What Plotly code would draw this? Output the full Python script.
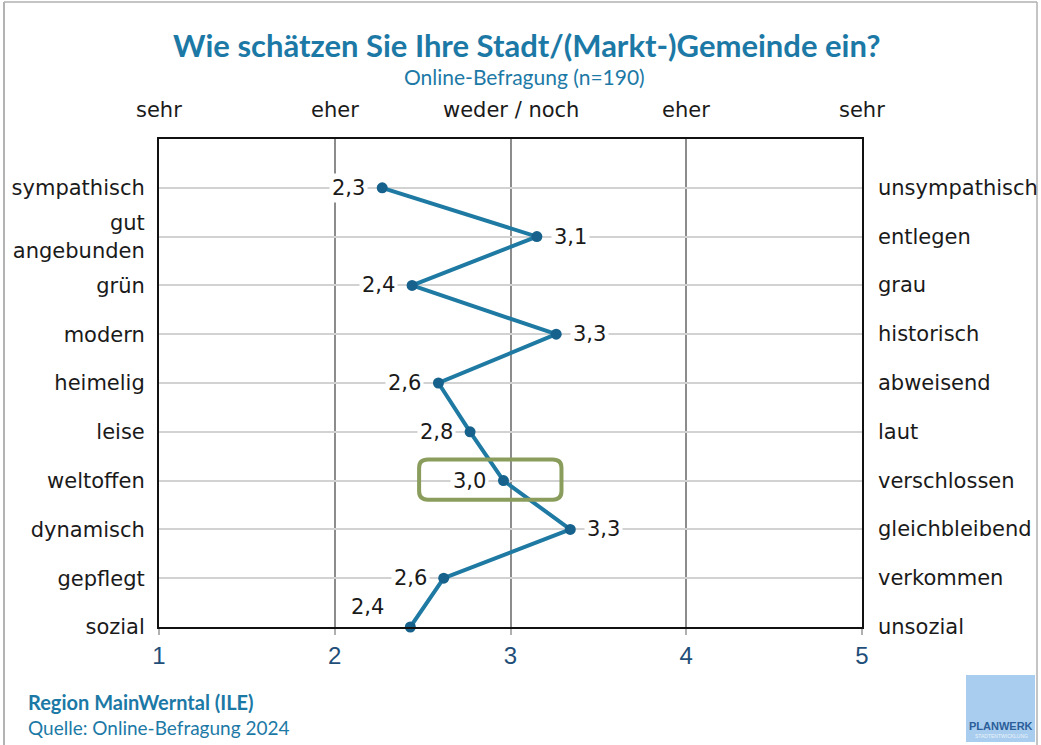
import plotly.graph_objects as go

# ---- data ----
left_labels = ["sympathisch", "gut<br>angebunden", "grün", "modern", "heimelig",
               "leise", "weltoffen", "dynamisch", "gepflegt", "sozial"]
right_labels = ["unsympathisch", "entlegen", "grau", "historisch", "abweisend",
                "laut", "verschlossen", "gleichbleibend", "verkommen", "unsozial"]
values = [2.27, 3.15, 2.44, 3.26, 2.59, 2.77, 2.96, 3.34, 2.62, 2.43]
value_labels = ["2,3", "3,1", "2,4", "3,3", "2,6", "2,8", "3,0", "3,3", "2,6", "2,4"]
label_side = ["left", "right", "left", "right", "left", "left", "left", "right", "left", "above"]
scale_ticks = [1, 2, 3, 4, 5]
scale_headers = ["sehr", "eher", "weder / noch", "eher", "sehr"]
highlight_row = 6
highlight_x = (2.48, 3.29)

W, H = 1041, 745
L, R, T, B = 159, 862, 139, 627


def px(xp):
    return (xp - L) / (R - L)


def py(yp):
    return (B - yp) / (B - T)


rows = list(range(len(left_labels)))
TXT = "DejaVu Sans, sans-serif"
TXT_SIZE = 21
BLUE = "#1c79a6"

fig = go.Figure()
fig.add_trace(go.Scatter(
    x=values, y=rows, mode="lines+markers",
    line=dict(color="#1f7aa3", width=4),
    marker=dict(color="#17628c", size=11),
    cliponaxis=False, hoverinfo="skip", showlegend=False,
))

annotations = []
# data labels
for v, r, t, s in zip(values, rows, value_labels, label_side):
    a = dict(x=v, y=r, xref="x", yref="y", text=t, showarrow=False,
             font=dict(family=TXT, size=TXT_SIZE, color="#1a1a1a"),
             bgcolor="white", borderpad=2)
    if s == "left":
        a.update(xanchor="right", xshift=-14)
    elif s == "right":
        a.update(xanchor="left", xshift=14)
    else:
        a.update(xanchor="center", xshift=-43, yshift=20)
    annotations.append(a)

# right labels
for r, t in zip(rows, right_labels):
    annotations.append(dict(x=px(876), y=r, xref="paper", yref="y", text=t,
                            xanchor="left", showarrow=False,
                            font=dict(family=TXT, size=TXT_SIZE, color="#1a1a1a")))

# header labels
for xv, t in zip(scale_ticks, scale_headers):
    annotations.append(dict(x=xv, y=py(110), xref="x", yref="paper", text=t,
                            showarrow=False, xanchor="center", yanchor="middle",
                            font=dict(family=TXT, size=TXT_SIZE, color="#1a1a1a")))

# titles
annotations += [
    dict(x=px(526), y=py(45), xref="paper", yref="paper", showarrow=False,
         text="<b>Wie schätzen Sie Ihre Stadt/(Markt-)Gemeinde ein?</b>",
         font=dict(family="Lato, sans-serif", size=31, color=BLUE), yanchor="middle"),
    dict(x=px(524), y=py(76), xref="paper", yref="paper", showarrow=False,
         text="Online-Befragung (n=190)",
         font=dict(family="Lato, sans-serif", size=21, color=BLUE), yanchor="middle"),
    dict(x=px(26), y=py(702), xref="paper", yref="paper", showarrow=False,
         text="<b>Region MainWerntal (ILE)</b>", xanchor="left", yanchor="middle",
         font=dict(family="Lato, sans-serif", size=20, color=BLUE)),
    dict(x=px(26), y=py(727), xref="paper", yref="paper", showarrow=False,
         text="Quelle: Online-Befragung 2024", xanchor="left", yanchor="middle",
         font=dict(family="Lato, sans-serif", size=19, color=BLUE)),
    dict(x=px(1001), y=py(726), xref="paper", yref="paper", showarrow=False,
         text="<b>PLANWERK</b>", xanchor="center", yanchor="middle",
         font=dict(family="Liberation Sans, sans-serif", size=11, color="#2b5e9a")),
    dict(x=px(1001), y=py(736), xref="paper", yref="paper", showarrow=False,
         text="STADTENTWICKLUNG", xanchor="center", yanchor="middle",
         font=dict(family="Liberation Sans, sans-serif", size=5, color="#eaf3fb")),
]

# highlight box (rounded rectangle)
x0, x1 = highlight_x
y0, y1 = highlight_row - 0.43, highlight_row + 0.39
rx, ry = 0.05, 0.17
path = (f"M {x0+rx},{y0} L {x1-rx},{y0} Q {x1},{y0} {x1},{y0+ry} "
        f"L {x1},{y1-ry} Q {x1},{y1} {x1-rx},{y1} L {x0+rx},{y1} "
        f"Q {x0},{y1} {x0},{y1-ry} L {x0},{y0+ry} Q {x0},{y0} {x0+rx},{y0} Z")
shapes = [
    dict(type="path", path=path, xref="x", yref="y",
         line=dict(color="#8a9d5c", width=4), layer="above"),
    # logo box
    dict(type="rect", xref="paper", yref="paper", x0=px(966), x1=px(1035),
         y0=py(742), y1=py(675), fillcolor="#a9cdee", line=dict(width=0), layer="below"),
    # slide border
    dict(type="line", xref="paper", yref="paper", x0=px(4), x1=px(4), y0=py(2), y1=py(745),
         line=dict(color="#9a9a9a", width=1.5)),
    dict(type="line", xref="paper", yref="paper", x0=px(4), x1=px(1037), y0=py(2), y1=py(2),
         line=dict(color="#b0b0b0", width=1.5)),
    dict(type="line", xref="paper", yref="paper", x0=px(1037), x1=px(1037), y0=py(2), y1=py(745),
         line=dict(color="#b0b0b0", width=1.5)),
]

fig.update_layout(
    width=W, height=H,
    margin=dict(l=L, r=W - R, t=T, b=H - B),
    plot_bgcolor="white", paper_bgcolor="white",
    annotations=annotations, shapes=shapes,
    xaxis=dict(range=[1, 5], tickvals=scale_ticks, ticktext=[str(t) for t in scale_ticks],
               showgrid=True, gridcolor="#8c8c8c", gridwidth=1.5,
               showline=True, linecolor="#111", linewidth=2, mirror=True,
               ticks="outside", ticklen=6, tickcolor="#b0b0b0", tickwidth=1.5,
               tickfont=dict(family="Liberation Sans, sans-serif", size=24, color="#1f4e79"),
               zeroline=False, fixedrange=True),
    yaxis=dict(range=[9, -1], tickvals=rows, ticktext=left_labels,
               showgrid=True, gridcolor="#d2d2d2", gridwidth=1.5,
               showline=True, linecolor="#111", linewidth=2, mirror=True,
               ticks="", ticklabelstandoff=8,
               tickfont=dict(family=TXT, size=TXT_SIZE, color="#1a1a1a"),
               zeroline=False, fixedrange=True),
)

fig.write_html("out.html", config={"displayModeBar": False},
               post_script="document.body.style.margin='0px';document.body.style.overflow='hidden';")
